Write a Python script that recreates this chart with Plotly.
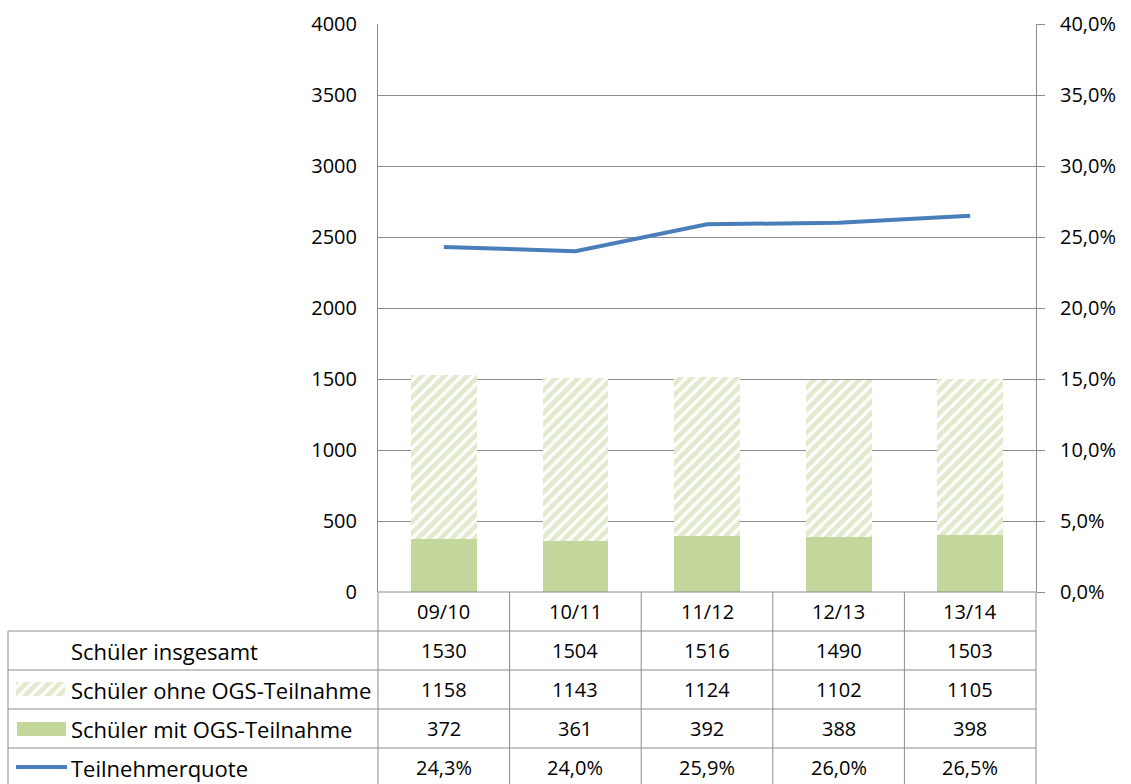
import plotly.graph_objects as go

# Schuljahre und Schülerzahlen
jahre = ["09/10", "10/11", "11/12", "12/13", "13/14"]
insgesamt = [1530, 1504, 1516, 1490, 1503]
ohne_ogs = [1158, 1143, 1124, 1102, 1105]
mit_ogs = [372, 361, 392, 388, 398]
quote = [24.3, 24.0, 25.9, 26.0, 26.5]  # Teilnehmerquote in %

reihen = ["Schüler insgesamt", "Schüler ohne OGS-Teilnahme",
          "Schüler mit OGS-Teilnahme", "Teilnehmerquote"]

W, H = 1131, 784
GRUEN = "#C3D69B"
BLAU = "#4A7EBB"
GRAU = "#8C8C8C"
FONT = "Open Sans"
FS = 20          # Achsen- und Zahlenbeschriftung
FS_ZEILE = 22    # Zeilenbeschriftungen der Tabelle

SCHRAFFUR = dict(shape="/", fgcolor=GRUEN, bgcolor="white",
                 size=8, solidity=0.6)


def px(x):
    return x / W


def py(y):
    return 1 - y / H


# Pixelgeometrie des Diagramms und der Datentabelle
PL, PR, PT, PB = 378, 1036, 24, 592
TL = 8
ROWS = [592, 631, 670, 709, 748, 787]
COLS = [PL + (PR - PL) * i / len(jahre) for i in range(len(jahre) + 1)]

fig = go.Figure()

fig.add_trace(go.Bar(
    x=jahre, y=mit_ogs, name=reihen[2],
    marker=dict(color=GRUEN, line=dict(width=0)),
))
fig.add_trace(go.Bar(
    x=jahre, y=ohne_ogs, name=reihen[1],
    marker=dict(color="white", line=dict(width=0), pattern=SCHRAFFUR),
))
fig.add_trace(go.Scatter(
    x=jahre, y=[q / 100 for q in quote], name=reihen[3], yaxis="y2",
    mode="lines", line=dict(color=BLAU, width=4),
))

# Legendensymbol für die schraffierte Reihe in der Tabelle
fig.add_trace(go.Bar(
    x=[0], y=[1], width=[1], xaxis="x3", yaxis="y3", showlegend=False,
    marker=dict(color="white", line=dict(width=0), pattern=SCHRAFFUR),
    hoverinfo="skip",
))

fig.update_layout(
    width=W, height=H,
    margin=dict(l=0, r=0, t=0, b=0, autoexpand=False),
    paper_bgcolor="white", plot_bgcolor="white",
    barmode="stack", bargap=0.5,
    showlegend=False,
    separators=",.",
    font=dict(family=FONT, size=FS, color="black"),
    xaxis=dict(domain=[px(PL), px(PR)], showticklabels=False, ticks="",
               showgrid=False, showline=False, zeroline=False),
    yaxis=dict(domain=[py(PB), py(PT)], range=[0, 4000], dtick=500,
               tickformat="d", showgrid=True, gridcolor=GRAU, gridwidth=1,
               zeroline=False, showline=True, linecolor=GRAU, linewidth=1,
               ticks="", ticklabelstandoff=16),
    yaxis2=dict(overlaying="y", side="right", anchor="x", range=[0, 0.4],
                dtick=0.05, tickformat=".1%", showgrid=False, zeroline=False,
                showline=True, linecolor=GRAU, linewidth=1,
                ticks="outside", ticklen=8, tickcolor=GRAU,
                ticklabelstandoff=11),
    xaxis3=dict(domain=[px(16), px(65)], range=[-0.5, 0.5], visible=False,
                fixedrange=True, anchor="y3"),
    yaxis3=dict(domain=[py(696), py(682)], range=[0, 1], visible=False,
                fixedrange=True, anchor="x3"),
)

shapes = []
line = dict(color=GRAU, width=1)
# Tabellengitter: waagerechte Linien
shapes.append(dict(type="line", xref="paper", yref="paper",
                   x0=px(PL), x1=px(PR), y0=py(ROWS[0]), y1=py(ROWS[0]), line=line))
for r in ROWS[1:]:
    shapes.append(dict(type="line", xref="paper", yref="paper",
                       x0=px(TL), x1=px(PR), y0=py(r), y1=py(r), line=line))
# senkrechte Linien
shapes.append(dict(type="line", xref="paper", yref="paper",
                   x0=px(TL), x1=px(TL), y0=py(ROWS[1]), y1=py(ROWS[-1]), line=line))
for c in COLS:
    shapes.append(dict(type="line", xref="paper", yref="paper",
                       x0=px(c), x1=px(c), y0=py(ROWS[0]), y1=py(ROWS[-1]), line=line))
# Legendensymbole
shapes.append(dict(type="rect", xref="paper", yref="paper",
                   x0=px(17), x1=px(66), y0=py(736), y1=py(722),
                   fillcolor=GRUEN, line=dict(width=0)))
shapes.append(dict(type="line", xref="paper", yref="paper",
                   x0=px(16), x1=px(67), y0=py(767), y1=py(767),
                   line=dict(color=BLAU, width=4)))
fig.update_layout(shapes=shapes)

ann = []
# Kopfzeile mit den Schuljahren
for i, j in enumerate(jahre):
    xc = (COLS[i] + COLS[i + 1]) / 2
    ann.append(dict(x=px(xc), y=py((ROWS[0] + ROWS[1]) / 2), text=j, size=FS))
# Zeilenbeschriftungen
for k, name in enumerate(reihen):
    ann.append(dict(x=px(69), y=py((ROWS[k + 1] + ROWS[k + 2]) / 2),
                    text=name, xanchor="left", size=FS_ZEILE))
# Werte
werte = [
    [str(v) for v in insgesamt],
    [str(v) for v in ohne_ogs],
    [str(v) for v in mit_ogs],
    [f"{q:.1f}%".replace(".", ",") for q in quote],
]
for k, zeile in enumerate(werte):
    for i, t in enumerate(zeile):
        xc = (COLS[i] + COLS[i + 1]) / 2
        ann.append(dict(x=px(xc), y=py((ROWS[k + 1] + ROWS[k + 2]) / 2),
                        text=t, size=FS))
for a in ann:
    groesse = a.pop("size")
    a.setdefault("xanchor", "center")
    a.update(xref="paper", yref="paper", yanchor="middle", showarrow=False,
             font=dict(family=FONT, size=groesse, color="black"))
fig.update_layout(annotations=ann)

fig.write_html("out.html")
